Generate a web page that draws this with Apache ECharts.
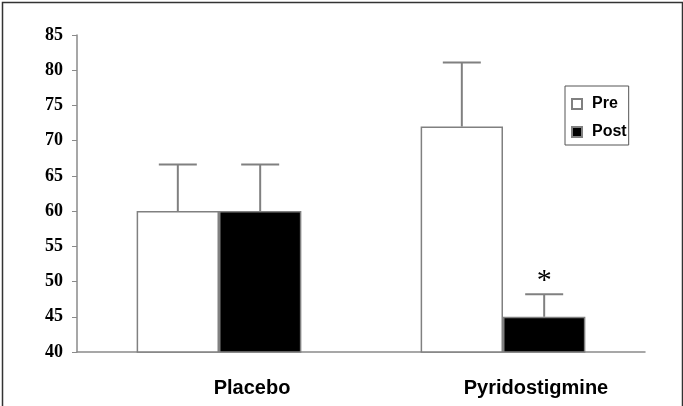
<!DOCTYPE html>
<html>
<head>
<meta charset="utf-8">
<script src="https://cdn.jsdelivr.net/npm/echarts@6/dist/echarts.min.js"></script>
<style>
html,body{margin:0;padding:0;background:#fff;}
#chart{width:683px;height:406px;}
</style>
</head>
<body>
<div id="chart"></div>
<script>
const categories = ['Placebo', 'Pyridostigmine'];
const preValues = [60, 72];
const postValues = [60, 45];
const preErrors = [6.6, 9.1];
const postErrors = [6.6, 3.2];
const postMarks = ['', '*'];
const yTicks = [40, 45, 50, 55, 60, 65, 70, 75, 80, 85];

const BAR_GAP_CAT = 0.42;
const chart = echarts.init(document.getElementById('chart'));

function errorSeries(name, values, errors, side, marks) {
  return {
    type: 'custom',
    name: name + ' err',
    z: 10,
    silent: true,
    renderItem: function (params, api) {
      const idx = api.value(0);
      const val = api.value(1);
      const err = api.value(2);
      const base = api.coord([idx, val]);
      const top = api.coord([idx, val + err]);
      const band = api.size([1, 0])[0];
      const bw = band * (1 - BAR_GAP_CAT) / 2;
      const x = base[0] + side * bw / 2;
      const cap = 19;
      const children = [
        { type: 'line', shape: { x1: x, y1: base[1], x2: x, y2: top[1] }, style: { stroke: '#808080', lineWidth: 2 } },
        { type: 'line', shape: { x1: x - cap, y1: top[1], x2: x + cap, y2: top[1] }, style: { stroke: '#808080', lineWidth: 2 } }
      ];
      const m = marks ? marks[idx] : '';
      if (m) {
        children.push({ type: 'text', style: { text: m, x: x, y: top[1] - 13, align: 'center', verticalAlign: 'middle', font: '30px "Liberation Serif"', fill: '#000' } });
      }
      return { type: 'group', children: children };
    },
    data: values.map((v, i) => [i, v, errors[i]])
  };
}

const option = {
  animation: false,
  backgroundColor: '#fff',
  graphic: [{
    type: 'rect', left: 0, top: 0,
    shape: { x: 0.5, y: 0.5, width: 680, height: 405 },
    style: { fill: 'none', stroke: '#333', lineWidth: 1.5 }
  }],
  grid: { left: 77, right: 38, top: 35, bottom: 54 },
  legend: {
    data: ['Pre', 'Post'],
    orient: 'vertical',
    left: 565, top: 86,
    itemWidth: 10, itemHeight: 10, itemGap: 10,
    padding: [9, 2, 4, 6],
    borderColor: '#555', borderWidth: 1,
    icon: 'rect',
    textStyle: { fontFamily: 'Liberation Sans', fontWeight: 'bold', fontSize: 16, lineHeight: 18, color: '#000', padding: [0, 0, 0, 5] }
  },
  xAxis: {
    type: 'category',
    data: categories,
    axisLine: { lineStyle: { color: '#8a8a8a', width: 1.5 } },
    axisTick: { show: false },
    axisLabel: { fontFamily: 'Liberation Sans', fontWeight: 'bold', fontSize: 20, color: '#000', margin: 26, padding: [0, 0, 0, 66] }
  },
  yAxis: {
    type: 'value',
    min: 40, max: 85, interval: 5,
    splitLine: { show: false },
    axisLine: { show: true, lineStyle: { color: '#8a8a8a', width: 1.5 } },
    axisTick: { show: true, length: 5, lineStyle: { color: '#8a8a8a' } },
    axisLabel: {
      fontFamily: 'Liberation Serif', fontWeight: 'bold', fontSize: 18, color: '#000', margin: 14,
      formatter: v => (yTicks.indexOf(v) >= 0 ? String(v) : '')
    }
  },
  series: [
    {
      name: 'Pre', type: 'bar', data: preValues,
      barGap: '0%', barCategoryGap: (BAR_GAP_CAT * 100) + '%',
      itemStyle: { color: '#fff', borderColor: '#808080', borderWidth: 1.5 }
    },
    {
      name: 'Post', type: 'bar', data: postValues,
      itemStyle: { color: '#000', borderColor: '#808080', borderWidth: 1.5 }
    },
    errorSeries('Pre', preValues, preErrors, -1, null),
    errorSeries('Post', postValues, postErrors, 1, postMarks)
  ]
};
chart.setOption(option);
</script>
</body>
</html>
